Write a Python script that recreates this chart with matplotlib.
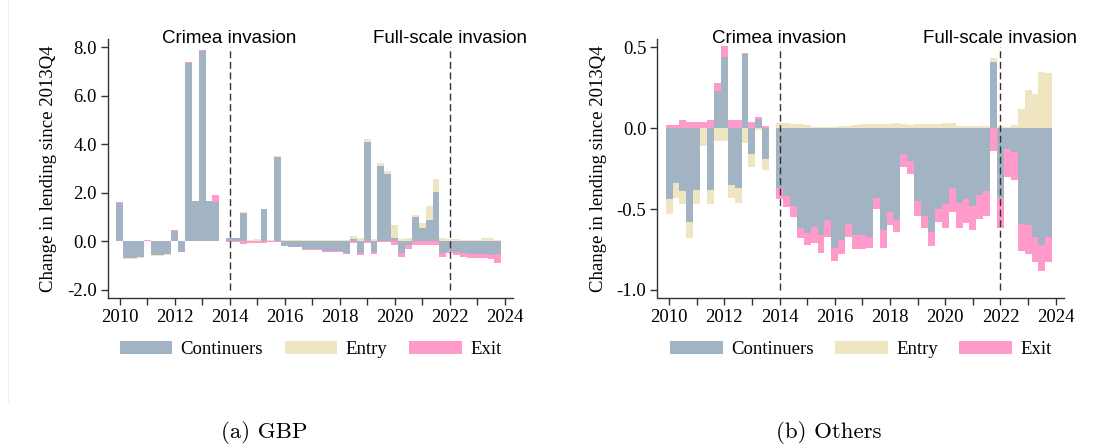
import numpy as np
import matplotlib
matplotlib.use("Agg")
import matplotlib.pyplot as plt
from matplotlib.patches import Patch
from matplotlib.lines import Line2D
from matplotlib.ticker import FixedLocator, FormatStrFormatter

plt.rcParams["axes.unicode_minus"] = False

# Quarterly observations, 2010Q1 .. 2023Q4 (2013Q4 is the base quarter)
years = np.repeat(np.arange(2010, 2024), 4)
quarters = np.tile([1, 2, 3, 4], 14)

# (a) GBP
gbp_continuers = [
    1.57, -0.72, -0.72, -0.67, 0.00, -0.59, -0.59, -0.54,
    0.43, -0.45, 7.33, 1.64, 7.85, 1.64, 1.60, 0.00,
    0.11, 0.11, 1.17, 0.00, 0.02, 1.31, 0.02, 3.46,
    -0.19, -0.23, -0.23, -0.34, -0.34, -0.34, -0.41, -0.41,
    -0.41, -0.48, 0.08, -0.50, 4.09, -0.45, 3.10, 2.77,
    0.12, -0.51, -0.15, 0.98, 0.52, 0.87, 2.01, -0.51,
    -0.41, -0.45, -0.51, -0.55, -0.55, -0.55, -0.58, -0.54,
]
gbp_entry = [
    0.00, -0.02, -0.02, -0.02, 0.00, -0.02, -0.02, -0.02,
    0.00, -0.02, -0.02, -0.01, -0.01, -0.01, -0.01, 0.00,
    0.03, 0.03, 0.03, 0.03, 0.06, 0.03, 0.03, 0.03,
    0.03, 0.03, 0.03, 0.03, 0.04, 0.03, 0.03, 0.03,
    0.03, 0.03, 0.11, 0.12, 0.12, 0.08, 0.12, 0.12,
    0.54, 0.08, 0.12, 0.10, 0.23, 0.58, 0.55, 0.12,
    0.08, 0.08, 0.03, 0.03, 0.03, 0.12, 0.12, 0.03,
]
gbp_exit = [
    0.04, 0.00, 0.00, 0.00, 0.04, 0.00, 0.00, 0.00,
    0.04, 0.00, 0.04, 0.03, 0.04, 0.00, 0.28, 0.00,
    -0.04, -0.06, -0.11, -0.10, -0.10, -0.10, -0.06, -0.03,
    -0.03, -0.03, -0.03, -0.03, -0.03, -0.03, -0.03, -0.03,
    -0.03, -0.04, -0.07, -0.08, -0.07, -0.07, -0.06, -0.06,
    -0.15, -0.14, -0.17, -0.15, -0.15, -0.15, -0.15, -0.14,
    -0.10, -0.14, -0.14, -0.14, -0.14, -0.14, -0.16, -0.36,
]

# (b) Other currencies
oth_continuers = [
    -0.44, -0.34, -0.39, -0.58, -0.38, 0.00, -0.38, 0.23,
    0.44, -0.35, -0.37, 0.46, -0.16, 0.06, -0.19, 0.00,
    -0.37, -0.42, -0.48, -0.62, -0.65, -0.61, -0.66, -0.57,
    -0.74, -0.69, -0.59, -0.66, -0.66, -0.67, -0.43, -0.63,
    -0.52, -0.57, -0.16, -0.20, -0.45, -0.54, -0.64, -0.50,
    -0.47, -0.37, -0.46, -0.44, -0.48, -0.41, -0.39, 0.41,
    -0.43, -0.13, -0.15, -0.59, -0.60, -0.67, -0.72, -0.67,
]
oth_entry = [
    -0.09, -0.09, -0.08, -0.10, -0.09, -0.11, -0.09, -0.08,
    -0.08, -0.08, -0.09, -0.09, -0.08, -0.01, -0.07, 0.00,
    0.030, 0.030, 0.025, 0.025, 0.020, 0.006, 0.006, 0.006,
    0.006, 0.012, 0.014, 0.020, 0.025, 0.025, 0.025, 0.029,
    0.029, 0.033, 0.029, 0.023, 0.027, 0.027, 0.027, 0.029,
    0.033, 0.033, 0.014, 0.014, 0.014, 0.014, 0.014, 0.025,
    0.012, 0.008, 0.019, 0.116, 0.234, 0.210, 0.350, 0.340,
]
oth_exit = [
    0.020, 0.017, 0.05, 0.04, 0.04, 0.04, 0.05, 0.05,
    0.07, 0.05, 0.05, 0.006, 0.04, 0.01, 0.015, 0.00,
    -0.07, -0.07, -0.07, -0.06, -0.07, -0.10, -0.11, -0.10,
    -0.08, -0.09, -0.08, -0.09, -0.09, -0.07, -0.07, -0.11,
    -0.08, -0.07, -0.08, -0.08, -0.09, -0.08, -0.09, -0.08,
    -0.15, -0.145, -0.16, -0.145, -0.15, -0.15, -0.15, -0.14,
    -0.19, -0.17, -0.17, -0.17, -0.18, -0.155, -0.16, -0.155,
]

series_labels = ["Continuers", "Entry", "Exit"]
colors = ["#A2B3C4", "#EFE5C1", "#FF9ACB"]
events = [(2014, "Crimea invasion"), (2022, "Full-scale invasion")]

SERIF = ["Liberation Serif", "DejaVu Serif"]
SANS = ["Liberation Sans", "DejaVu Sans"]
FS = 13.5

x = years + (quarters - 1) * 0.25


def stacked(ax, parts):
    pos = np.zeros(len(x))
    neg = np.zeros(len(x))
    for vals, col in zip(parts, colors):
        v = np.asarray(vals, dtype=float)
        base = np.where(v >= 0, pos, neg)
        ax.bar(x, v, width=0.25, bottom=base, color=col, linewidth=0, align="center")
        pos = pos + np.where(v >= 0, v, 0)
        neg = neg + np.where(v < 0, v, 0)


def style(ax, yticks, ylim):
    ax.set_xlim(2009.58, 2024.3)
    ax.set_ylim(*ylim)
    for s in ("top", "right"):
        ax.spines[s].set_visible(False)
    for s in ("left", "bottom"):
        ax.spines[s].set_color("#333333")
        ax.spines[s].set_linewidth(1.0)
    ax.xaxis.set_major_locator(FixedLocator(np.arange(2010, 2025, 1)))
    ax.set_xticklabels([str(y) if y % 2 == 0 else "" for y in range(2010, 2025)])
    ax.yaxis.set_major_locator(FixedLocator(yticks))
    ax.yaxis.set_major_formatter(FormatStrFormatter("%.1f"))
    ax.tick_params(axis="both", direction="out", length=5, width=1.0,
                   color="#333333", labelsize=FS, pad=3)
    for lab in ax.get_xticklabels() + ax.get_yticklabels():
        lab.set_fontfamily(SERIF)
    ax.set_ylabel("Change in lending since 2013Q4", fontsize=FS,
                  family=SERIF, labelpad=7)
    for ev, name in events:
        ax.vlines(ev, yticks[0], yticks[-1], color="#333333", linewidth=1.0,
                  linestyles=(0, (5, 2.6)))
        ax.text(ev, 0.983, name, transform=ax.get_xaxis_transform(),
                ha="center", va="baseline", fontsize=FS, family=SANS)
    handles = [Patch(facecolor=c, edgecolor="none") for c in colors]
    ax.legend(handles, series_labels, loc="center",
              bbox_to_anchor=(0.5, -0.2), ncol=3, frameon=False,
              prop={"family": SERIF, "size": FS},
              handlelength=2.8, handleheight=0.7, handletextpad=0.45,
              columnspacing=1.15, borderaxespad=0)


fig = plt.figure(figsize=(10.97, 4.48), dpi=100)
ax1 = fig.add_axes([108 / 1097, 1 - 298 / 448, 405 / 1097, 259 / 448])
ax2 = fig.add_axes([657.5 / 1097, 1 - 298 / 448, 406.5 / 1097, 259 / 448])

stacked(ax1, [gbp_continuers, gbp_entry, gbp_exit])
style(ax1, [-2.0, 0.0, 2.0, 4.0, 6.0, 8.0], (-2.35, 8.33))

stacked(ax2, [oth_continuers, oth_entry, oth_exit])
style(ax2, [-1.0, -0.5, 0.0, 0.5], (-1.05, 0.552))

fig.text(264 / 1097, 1 - 432 / 448, "(a) GBP", ha="center", va="center",
         fontsize=16.5, family=["cmr10", "DejaVu Serif"])
fig.text(829 / 1097, 1 - 432 / 448, "(b) Others", ha="center", va="center",
         fontsize=16.5, family=["cmr10", "DejaVu Serif"])

fig.add_artist(Line2D([8 / 1097, 8 / 1097], [1 - 402 / 448, 1.0],
                      transform=fig.transFigure, color="#f0f0f0", linewidth=0.8))

fig.savefig("out.png", dpi=100)
